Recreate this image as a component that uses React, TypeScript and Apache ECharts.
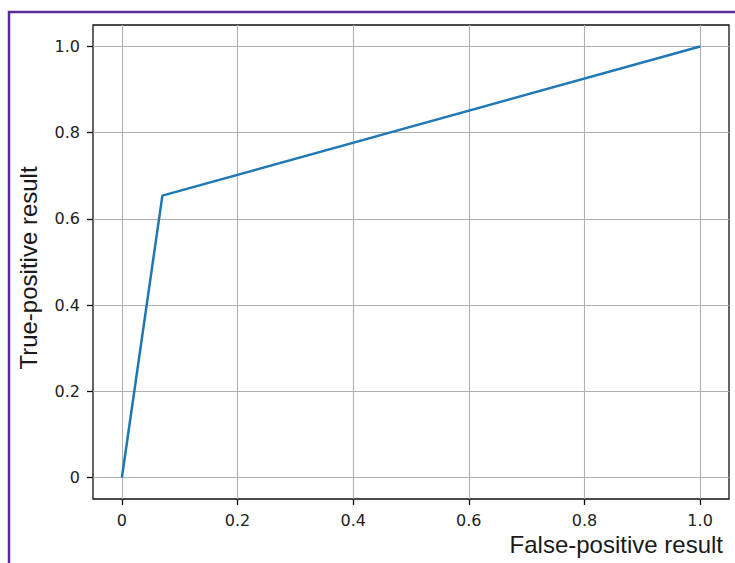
import React, { useEffect, useRef } from "react";
import * as echarts from "echarts";

const fpr: number[] = [0, 0.07, 1.0];
const tpr: number[] = [0, 0.654, 1.0];
const xTicks: number[] = [0, 0.2, 0.4, 0.6, 0.8, 1.0];
const yTicks: number[] = [0, 0.2, 0.4, 0.6, 0.8, 1.0];
const xLabel = "False-positive result";
const yLabel = "True-positive result";

const fmt = (v: number) => (Math.abs(v) < 1e-9 ? "0" : v.toFixed(1));

export default function App() {
  const ref = useRef<HTMLDivElement>(null);
  useEffect(() => {
    if (!ref.current) return;
    const chart = echarts.init(ref.current, null, { renderer: "svg" });
    const tickFont = {
      fontFamily: "DejaVu Sans",
      fontSize: 16,
      color: "#222222",
    };
    const axisCommon = {
      type: "value" as const,
      min: -0.05,
      max: 1.05,
      axisLine: { show: false, onZero: false },
      axisTick: {
        show: true,
        inside: false,
        length: 6,
        lineStyle: { color: "#111", width: 1.3 },
      },
      splitLine: { show: true, lineStyle: { color: "#b0b0b0", width: 1.1 } },
    };
    chart.setOption({
      animation: false,
      backgroundColor: "#ffffff",
      grid: {
        left: 93,
        top: 25,
        right: 6,
        bottom: 64,
        show: true,
        borderColor: "#111",
        borderWidth: 1.3,
        backgroundColor: "transparent",
        containLabel: false,
      },
      xAxis: {
        ...axisCommon,
        axisTick: { ...axisCommon.axisTick, customValues: xTicks },
        axisLabel: {
          ...tickFont,
          margin: 13,
          customValues: xTicks,
          formatter: (v: number) => fmt(v),
        },
      },
      yAxis: {
        ...axisCommon,
        axisTick: { ...axisCommon.axisTick, customValues: yTicks },
        axisLabel: {
          ...tickFont,
          margin: 13,
          customValues: yTicks,
          formatter: (v: number) => fmt(v),
        },
      },
      series: [
        {
          type: "line",
          data: fpr.map((x, i) => [x, tpr[i]]),
          showSymbol: false,
          symbol: "none",
          lineStyle: { color: "#1f77b4", width: 2.5 },
          z: 5,
        },
      ],
      graphic: [
        {
          type: "rect",
          shape: { x: 9, y: 12, width: 800, height: 700 },
          style: { fill: "none", stroke: "#5b2d96", lineWidth: 2.5 },
          silent: true,
          z: 100,
        },
        {
          type: "text",
          right: 12,
          top: 532,
          style: {
            text: xLabel,
            fontFamily: "Liberation Sans",
            fontSize: 24,
            fill: "#1a1a1a",
          },
        },
        {
          type: "text",
          x: 28,
          y: 268,
          rotation: Math.PI / 2,
          style: {
            text: yLabel,
            fontFamily: "Liberation Sans",
            fontSize: 24,
            fill: "#1a1a1a",
            align: "center",
            verticalAlign: "middle",
          },
        },
      ],
    });
    return () => chart.dispose();
  }, []);
  return (
    <div
      ref={ref}
      style={{ position: "fixed", left: 0, top: 0, width: 735, height: 563 }}
    />
  );
}
